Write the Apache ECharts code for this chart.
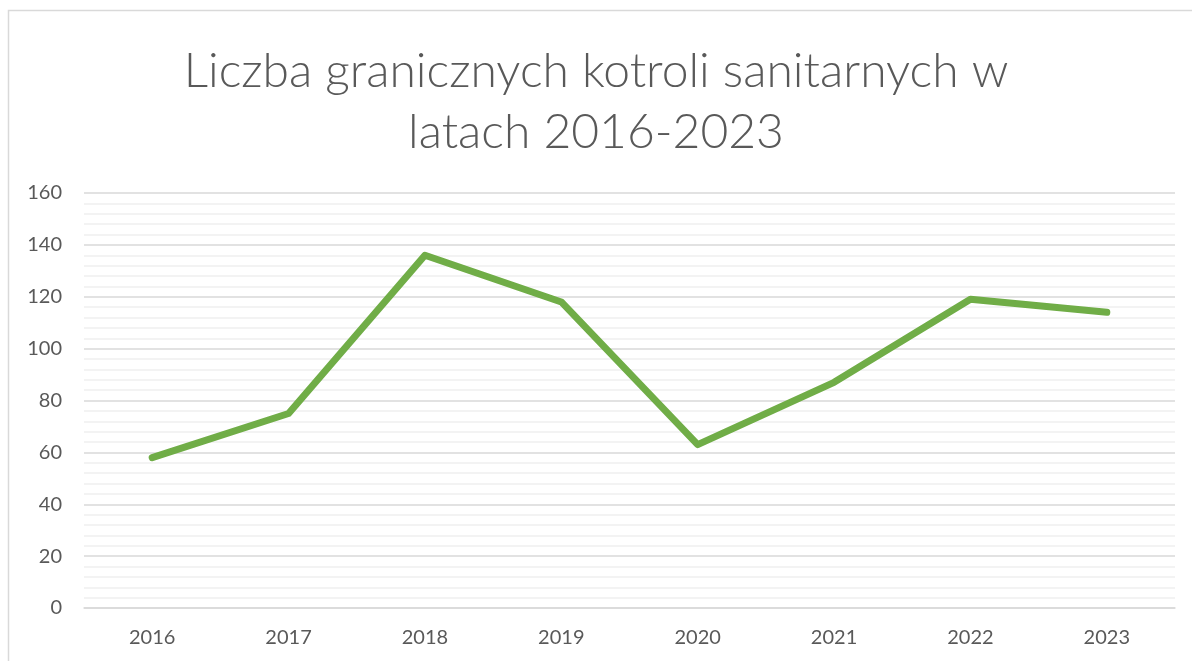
<!DOCTYPE html>
<html lang="pl">
<head>
  <meta charset="UTF-8">
  <title>Liczba granicznych kotroli sanitarnych</title>
  <style>
    html, body { margin: 0; padding: 0; background: #fff; }
  </style>
</head>
<body>
  <div id="chart" style="width: 1192px; height: 661px;"></div>

<script src="https://cdn.jsdelivr.net/npm/echarts@6/dist/echarts.min.js"></script>
<script>
  const years = ['2016', '2017', '2018', '2019', '2020', '2021', '2022', '2023'];
  const kontrole = [58, 75, 136, 118, 63, 87, 119, 114];
  const titleLines = ['Liczba granicznych kotroli sanitarnych w', 'latach 2016-2023'];

  const chart = echarts.init(document.getElementById('chart'));
  const font = 'Lato, "Open Sans", sans-serif';

  const option = {
    animation: false,
    title: {
      text: titleLines.join('\n'),
      left: 'center',
      top: 36,
      textStyle: {
        fontFamily: font,
        fontWeight: 300,
        fontSize: 48,
        lineHeight: 61,
        color: '#595959'
      }
    },
    graphic: [
      {
        type: 'rect',
        shape: { x: 8.5, y: 10.5, width: 1300, height: 800 },
        style: { fill: 'none', stroke: '#d9d9d9', lineWidth: 1.5 },
        silent: true
      }
    ],
    grid: {
      left: 84,
      right: 17,
      top: 193,
      bottom: 53
    },
    xAxis: {
      type: 'category',
      data: years,
      boundaryGap: true,
      axisLine: { lineStyle: { color: '#d9d9d9', width: 1.5 } },
      axisTick: { show: false },
      axisLabel: {
        margin: 20,
        fontFamily: font,
        fontSize: 20,
        color: '#595959'
      }
    },
    yAxis: {
      type: 'value',
      min: 0,
      max: 160,
      interval: 20,
      axisLine: { show: false },
      axisTick: { show: false },
      axisLabel: {
        margin: 22,
        fontFamily: font,
        fontSize: 20,
        color: '#595959'
      },
      splitLine: { lineStyle: { color: '#d9d9d9', width: 1.5 } },
      minorTick: { show: false, splitNumber: 5 },
      minorSplitLine: { show: true, lineStyle: { color: '#f0f0f0', width: 1.5 } }
    },
    series: [
      {
        name: 'Liczba kontroli',
        type: 'line',
        data: kontrole,
        showSymbol: false,
        lineStyle: { color: '#70ad47', width: 7, cap: 'round', join: 'round' }
      }
    ]
  };

  chart.setOption(option);
</script>
</body>
</html>
